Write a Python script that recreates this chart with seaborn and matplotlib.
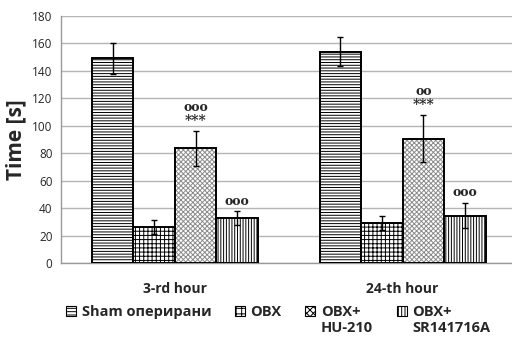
import numpy as np
import pandas as pd
import matplotlib
matplotlib.use("Agg")
import matplotlib.pyplot as plt
import seaborn as sns
from matplotlib.patches import Patch, Rectangle
from matplotlib.legend_handler import HandlerPatch

hours = ["3-rd hour", "24-th hour"]
groups = ["Sham оперирани", "OBX", "OBX+\nHU-210", "OBX+\nSR141716A"]
sham = [149, 154]
obx = [26, 29]
obx_hu = [83.5, 90.5]
obx_sr = [32.5, 34.5]
sham_err = [11.5, 10.7]
obx_err = [5, 5.2]
obx_hu_err = [12.5, 17]
obx_sr_err = [5, 9]
marks_hu = ["ooo", "oo"]
marks_sr = ["ooo", "ooo"]
stars = "***"

sns.set_style("white")
plt.rcParams["font.family"] = ["Open Sans", "DejaVu Sans"]
plt.rcParams["hatch.linewidth"] = 0.7

values = [sham, obx, obx_hu, obx_sr]
errors = [sham_err, obx_err, obx_hu_err, obx_sr_err]
rows = []
for g, vals in zip(groups, values):
    for h, v in zip(hours, vals):
        rows.append({"hour": h, "group": g, "time": v})
df = pd.DataFrame(rows)

fig = plt.figure(figsize=(5.12, 3.38), dpi=100)
ax = fig.add_axes([0.119, 0.222, 0.881, 0.731])

hatches = ["------", "++++", "xxxxxxx", "||||||"]
hatch_colors = ["black", "black", "#8c8c8c", "black"]
legend_hatches = ["-----", "+++", "xxxxx", "|||||"]
sns.barplot(data=df, x="hour", y="time", hue="group", order=hours,
            hue_order=groups, errorbar=None, width=0.728, gap=0,
            palette=["white"] * 4, edgecolor="black", linewidth=1.4,
            legend=False, ax=ax, zorder=3)

bar_containers = list(ax.containers)
for gi, cont in enumerate(bar_containers):
    for hi, bar in enumerate(cont):
        bar.set_hatch(hatches[gi])
        if hatch_colors[gi] != "black":
            # lighter fill pattern, with the black outline kept on top
            bar.set_edgecolor(hatch_colors[gi])
            bar.set_linewidth(0)
            ax.add_patch(Rectangle(bar.get_xy(), bar.get_width(),
                                   bar.get_height(), fill=False,
                                   edgecolor="black", linewidth=1.4,
                                   zorder=3.5))
        cx = bar.get_x() + bar.get_width() / 2
        ax.errorbar(cx, values[gi][hi], yerr=errors[gi][hi], fmt="none",
                    ecolor="black", elinewidth=1.0, capsize=2.5,
                    capthick=1.0, zorder=4)
        top = values[gi][hi] + errors[gi][hi]
        if gi == 2:
            ax.text(cx, top + 7.5, stars, ha="center", va="center",
                    fontsize=10, fontweight="bold", family="DejaVu Serif")
            ax.text(cx, top + 17.5, marks_hu[hi], ha="center", va="center",
                    fontsize=9, fontweight="bold", family="DejaVu Serif")
        if gi == 3:
            ax.text(cx, top + 7.5, marks_sr[hi], ha="center", va="center",
                    fontsize=9, fontweight="bold", family="DejaVu Serif")

ax.set_ylim(0, 180)
ax.set_xlim(-0.5, 1.48)
ax.set_yticks(np.arange(0, 181, 20))
ax.tick_params(axis="y", labelsize=8.5, length=4, color="#999999",
               pad=2)
ax.yaxis.grid(True, color="#b5b5b5", linewidth=1.0, zorder=0)
ax.set_axisbelow(True)
ax.set_xticks([0, 1])
ax.set_xticklabels(hours, fontsize=10, fontweight="bold")
ax.tick_params(axis="x", length=0, pad=14)
ax.set_xticks([-0.5, 0.5], minor=True)
ax.tick_params(axis="x", which="minor", length=4, color="#999999")
for s in ["top", "right"]:
    ax.spines[s].set_visible(False)
for s in ["left", "bottom"]:
    ax.spines[s].set_color("#999999")
    ax.spines[s].set_linewidth(1.0)
ax.set_xlabel("")
ax.set_ylabel("Time [s]", fontsize=15, fontweight="bold", labelpad=4)


def top_square(legend, orig_handle, xdescent, ydescent, width, height,
               fontsize):
    # square key sitting beside the first line of a two-line label
    return Rectangle((-xdescent, -ydescent + 0.62 * fontsize), width, height)


handles = [Patch(facecolor="white", edgecolor="black", hatch=h, linewidth=0.8)
           for h in legend_hatches]
labels = [g if "\n" in g else g + "\n " for g in groups]
leg = fig.legend(handles, labels, loc="upper left", ncol=4,
                 bbox_to_anchor=(0.128, 0.098), frameon=False,
                 prop={"weight": "bold", "size": 10.5},
                 handlelength=0.7, handleheight=0.7, handletextpad=0.4,
                 columnspacing=1.6, borderaxespad=0, borderpad=0,
                 handler_map={Patch: HandlerPatch(patch_func=top_square)})

fig.savefig("out.png", dpi=100)
